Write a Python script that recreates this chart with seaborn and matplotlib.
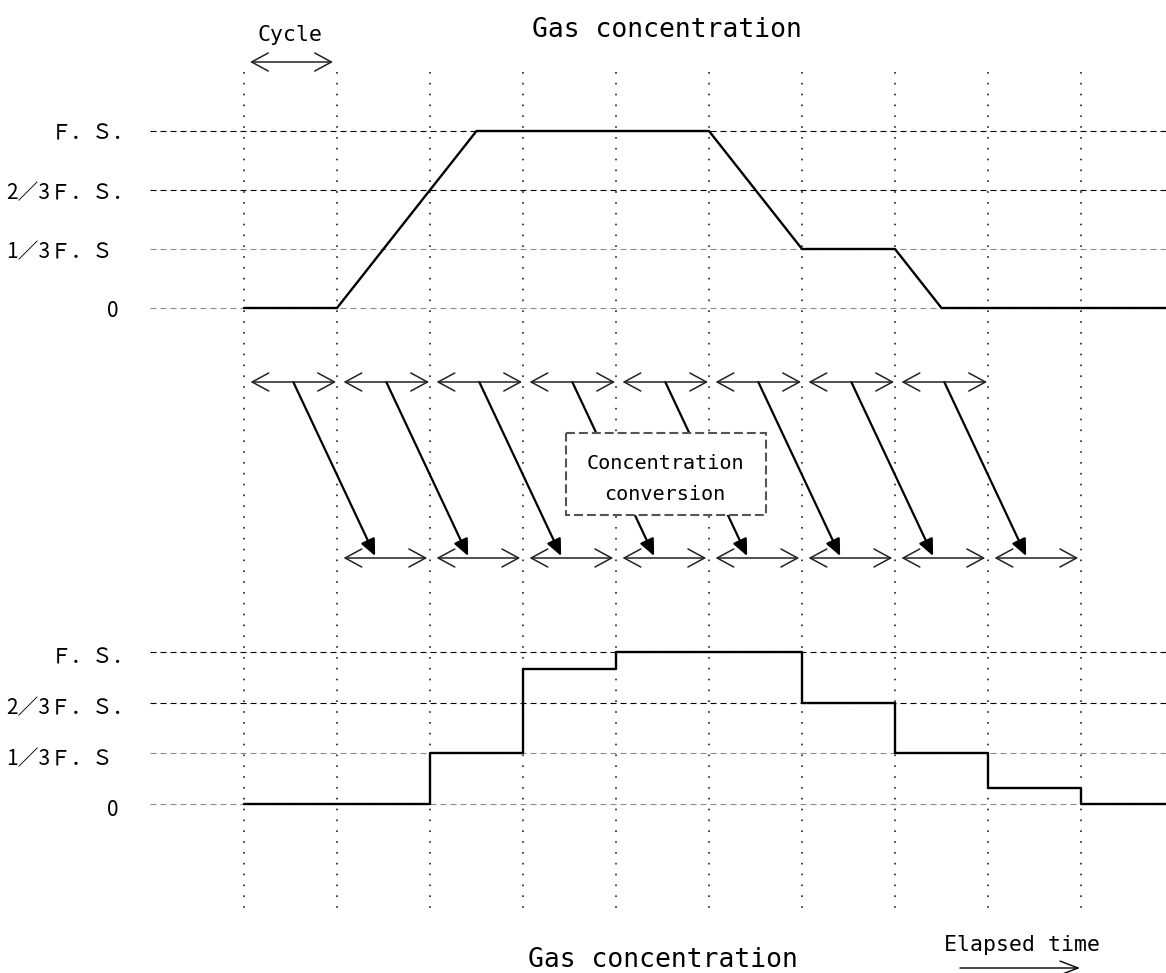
import numpy as np
import pandas as pd
import matplotlib
matplotlib.use("Agg")
import matplotlib.pyplot as plt
import seaborn as sns
from matplotlib.patches import Rectangle
from matplotlib import transforms

# ---------------- data ----------------
level_values = [0, 1, 2, 3]                      # units of 1/3 F.S.
level_labels = ["0", "1／3Ｆ．Ｓ", "2／3Ｆ．Ｓ．", "Ｆ．Ｓ．"]
cycle_bounds = list(range(10))                   # cycle boundaries (t = 0..9)

# top panel: actual gas concentration vs time (in cycles)
true_t = [0, 1, 2.5, 5, 6, 7, 7.5, 9.92]
true_v = [0, 0, 3, 3, 1, 1, 0, 0]

# bottom panel: converted (held) concentration
conv_t = [0, 1, 2, 3, 4, 5, 6, 7, 8, 9, 9.92]
conv_v = [0, 0, 1, 2.66, 3, 3, 2, 1, 0.32, 0, 0]

meas_cycles = list(range(8))       # measuring cycles (top row of arrows)
out_cycles = list(range(1, 9))     # output cycles (bottom row of arrows)

title_top = "Gas concentration"
title_bottom = "Gas concentration"
cycle_label = "Cycle"
box_label = ["Concentration", "conversion"]
time_label = "Elapsed time"

# ---------------- layout ----------------
sns.set_theme(style="white")
plt.rcParams["font.family"] = ["DejaVu Sans Mono", "Noto Sans CJK JP", "DejaVu Sans"]
plt.rcParams["text.color"] = "black"

W, H = 1166, 973
X0, DX = 244.0, 93.0                             # pixel of t=0, pixels per cycle
def tx(px):
    return (px - X0) / DX

fig = plt.figure(figsize=(W / 100, H / 100), dpi=100)
xlim = (tx(0), tx(W))

def make_ax(ylim):
    ax = fig.add_axes([0, 0, 1, 1])
    ax.set_xlim(*xlim)
    ax.set_ylim(*ylim)
    ax.axis("off")
    ax.patch.set_alpha(0)
    return ax

TOP0, TOPU = 308.0, 59.0
BOT0, BOTU = 804.0, 50.67
ax_pix = make_ax((H, 0))
ax_top = make_ax((-(H - TOP0) / TOPU, TOP0 / TOPU))
ax_bot = make_ax((-(H - BOT0) / BOTU, BOT0 / BOTU))

# vertical dotted cycle lines
ax_pix.vlines(cycle_bounds, 72, 910, colors="#222222", linestyles=[(0, (1, 5.5))],
              linewidth=1.2, zorder=1)

# horizontal dashed reference levels + labels
cjk = ["Noto Sans CJK JP", "DejaVu Sans"]
label_right_px = [118, 113, 134, 134]
for ax, off in ((ax_top, -3), (ax_bot, -6)):
    for v, lab, rpx in zip(level_values, level_labels, label_right_px):
        col = "black" if v >= 2 else "#8c8c8c"
        ax.plot([tx(150), xlim[1] + 0.2], [v, v], color=col, lw=0.8,
                dashes=(5.4, 3.6), zorder=1)
        tr = transforms.offset_copy(ax.transData, fig=fig, x=0, y=off, units="dots")
        ax.text(tx(rpx), v, lab, ha="right", va="center", fontsize=15,
                family=cjk, color="black", transform=tr)

# main curves
sns.lineplot(x=true_t, y=true_v, ax=ax_top, color="black", lw=1.7,
             estimator=None, sort=False, zorder=3)
sns.lineplot(x=conv_t, y=conv_v, ax=ax_bot, color="black", lw=1.7,
             estimator=None, sort=False, drawstyle="steps-post", zorder=3)

# double-headed cycle arrows
dbl = dict(arrowstyle="<->,head_length=12,head_width=6.5", mutation_scale=1,
           lw=1.1, color="#222222", shrinkA=0, shrinkB=0)
for i in meas_cycles:
    ax_pix.annotate("", xy=(i + 0.99, 382), xytext=(i + 0.07, 382), arrowprops=dbl)
for i in out_cycles:
    ax_pix.annotate("", xy=(i + 0.97, 558), xytext=(i + 0.07, 558), arrowprops=dbl)

# conversion links
link = dict(arrowstyle="-|>,head_length=10,head_width=4.5", mutation_scale=1,
            lw=1.6, color="black", shrinkA=0, shrinkB=0)
for i in meas_cycles:
    ax_pix.annotate("", xy=(i + 1.41, 556), xytext=(i + 0.53, 382),
                    arrowprops=link, zorder=2)

# conversion box
bx0, bx1, by0, by1 = tx(566), tx(766), 433, 515
ax_pix.add_patch(Rectangle((bx0, by0), bx1 - bx0, by1 - by0, facecolor="white",
                           edgecolor="#555555", lw=1.5, linestyle=(0, (4.3, 1.9)),
                           zorder=5))
ax_pix.text(tx(665), 469, box_label[0], ha="center", va="baseline", fontsize=14.5,
            color="black", zorder=6)
ax_pix.text(tx(665), 500, box_label[1], ha="center", va="baseline", fontsize=14.5,
            color="black", zorder=6)

# titles and annotations
ax_pix.text(tx(667), 37, title_top, ha="center", va="baseline", fontsize=19, color="black")
ax_pix.text(tx(663), 967, title_bottom, ha="center", va="baseline", fontsize=19, color="black")
ax_pix.text(tx(290), 41, cycle_label, ha="center", va="baseline", fontsize=15.5, color="black")
ax_pix.annotate("", xy=(tx(333), 62), xytext=(tx(250), 62), arrowprops=dbl)
ax_pix.text(tx(1022), 951, time_label, ha="center", va="baseline", fontsize=15.5, color="black")
ax_pix.annotate("", xy=(tx(1080), 968), xytext=(tx(960), 968),
                arrowprops=dict(arrowstyle="->,head_length=13,head_width=5",
                                mutation_scale=1, lw=1.0, color="black",
                                shrinkA=0, shrinkB=0))

fig.savefig("out.png", dpi=100, facecolor="white")
